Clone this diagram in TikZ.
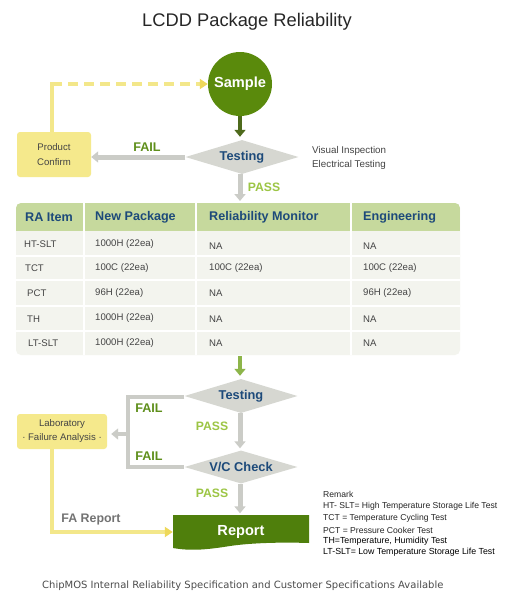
\documentclass[tikz,border=0pt]{standalone}
\usepackage{fontspec}
\setmainfont{Liberation Sans}
\newfontfamily\verdfont{DejaVu Sans}
\usetikzlibrary{arrows.meta,shapes.geometric}
\definecolor{samplegreen}{HTML}{5A8A0C}
\definecolor{reportgreen}{HTML}{4F7F0C}
\definecolor{darkolive}{HTML}{4E6A1C}
\definecolor{diagray}{HTML}{D6D7D1}
\definecolor{arrgray}{HTML}{CBCCC7}
\definecolor{hdrgreen}{HTML}{C6D99D}
\definecolor{rowbg}{HTML}{F3F4EE}
\definecolor{yelbox}{HTML}{F5E98C}
\definecolor{yelline}{HTML}{F3E78A}
\definecolor{yeltip}{HTML}{EED85A}
\definecolor{navy}{HTML}{1D4A7A}
\definecolor{failgreen}{HTML}{5F8F1B}
\definecolor{passgreen}{HTML}{9CC544}
\definecolor{tblarrow}{HTML}{8DB54A}
\definecolor{txtgray}{HTML}{444444}
\tikzset{
  fs/.style={font=\fontsize{#1}{#1}\selectfont},
  dia/.style={shape=diamond, aspect=3.3, fill=diagray, inner sep=0pt, minimum width=113pt, minimum height=34pt,
    text=navy, font=\fontsize{12.8}{13}\selectfont\bfseries},
  ybox/.style={rounded corners=3pt, fill=yelbox, inner sep=0pt, align=center, text=txtgray,
    font=\fontsize{9.6}{14.5}\selectfont},
  garrow/.style={draw=arrgray, line width=5pt, -{Triangle[width=11pt,length=7pt]}},
  gline/.style={draw=arrgray, line width=4.5pt},
  yline/.style={draw=yelline, line width=3.6pt},
  yarrow/.style={yline, -{Triangle[width=10pt,length=8pt,color=yeltip]}},
  faillbl/.style={text=failgreen, font=\fontsize{12.6}{13}\selectfont\bfseries},
  passlbl/.style={text=passgreen, font=\fontsize{12.2}{13}\selectfont\bfseries},
  hdr/.style={anchor=west, text=navy, font=\fontsize{12.6}{13}\selectfont\bfseries, inner sep=0pt},
  cell/.style={anchor=west, text=txtgray, font=\fontsize{9.6}{11}\selectfont, inner sep=0pt},
  remark/.style={anchor=west, inner sep=0pt, text=black!85, font=\fontsize{8.6}{9}\selectfont},
}
\begin{document}
\begin{tikzpicture}[x=1pt,y=-1pt]
\useasboundingbox[fill=white] (0,0) rectangle (512,600);

% title
\node[fs=18.3, text=black!85] (title) at (247,22) {LCDD Package Reliability};

% top part
\node[circle, fill=samplegreen, minimum size=64pt, inner sep=0pt, text=white,
  font=\fontsize{14.6}{15}\selectfont\bfseries] (sample) at (240,84) {Sample};
\node[dia] (t1) at (242,157) {Testing};
\node[ybox, minimum width=74pt, minimum height=45pt] (pc) at (54,154.5) {Product\\Confirm};
\node[anchor=west, inner sep=0pt, text=txtgray, fs=9.8] (vis) at (312,151) {Visual Inspection};
\node[anchor=west, inner sep=0pt, text=txtgray, fs=9.8] (ele) at (312,165) {Electrical Testing};

\draw[draw=darkolive, line width=4.5pt, -{Triangle[width=11pt,length=7pt]}, shorten >=3pt] (sample.south) -- (sample.south |- t1.north);
\draw[garrow] (t1.west) -- (t1.west -| pc.east);
\node[faillbl] (fail1) at (147,147) {FAIL};
\coordinate (corner) at (52,84);
\draw[yline] (pc.north -| corner) -- ([yshift=1.8pt]corner);
\draw[yarrow, dash pattern=on 10pt off 6pt, dash phase=-2pt] ([xshift=-1.8pt]corner) -- (sample.west);

% table
\coordinate (tabtop) at (240,203);
\draw[garrow, shorten >=2pt] (t1.south -| tabtop) -- (tabtop);
\node[passlbl] (pass1) at (264,187) {PASS};

\fill[rowbg, rounded corners=5pt] (16,203) rectangle (460,355);
\begin{scope}
\clip[rounded corners=5pt] (16,203) rectangle (460,355);
\fill[hdrgreen] (16,203) rectangle (460,231);
\end{scope}
\foreach \yy in {256,280,306,331} \draw[white, line width=1.2pt] (16,\yy) -- (460,\yy);
\foreach \xx in {84,196,351} \draw[white, line width=1.2pt] (\xx,203) -- (\xx,355);

\node[hdr] (h1) at (25,217) {RA Item};
\node[hdr] (h2) at (95,217) {New Package};
\node[hdr] (h3) at (209,217) {Reliability Monitor};
\node[hdr] (h4) at (363,217) {Engineering};

\node[cell] (r1a) at (24,244) {HT-SLT};
\node[cell] (r1b) at (95,244) {1000H (22ea)};
\node[cell] (r1c) at (209,246) {NA};
\node[cell] (r1d) at (363,246) {NA};
\node[cell] (r2a) at (25,268) {TCT};
\node[cell] (r2b) at (95,268) {100C (22ea)};
\node[cell] (r2c) at (209,268) {100C (22ea)};
\node[cell] (r2d) at (363,268) {100C (22ea)};
\node[cell] (r3a) at (27,293) {PCT};
\node[cell] (r3b) at (95,293) {96H (22ea)};
\node[cell] (r3c) at (209,293) {NA};
\node[cell] (r3d) at (363,293) {96H (22ea)};
\node[cell] (r4a) at (27,319) {TH};
\node[cell] (r4b) at (95,318) {1000H (22ea)};
\node[cell] (r4c) at (209,319) {NA};
\node[cell] (r4d) at (363,319) {NA};
\node[cell] (r5a) at (28,343) {LT-SLT};
\node[cell] (r5b) at (95,343) {1000H (22ea)};
\node[cell] (r5c) at (209,343) {NA};
\node[cell] (r5d) at (363,343) {NA};

% lower part
\coordinate (tabbot) at (240,356);
\node[dia] (t2) at (241,396) {Testing};
\node[dia, minimum height=33pt] (vc) at (241,467) {V/C Check};
\node[ybox, minimum width=90pt, minimum height=35pt, font=\fontsize{9.6}{14}\selectfont] (lab) at (62,431.5) {Laboratory\\\textperiodcentered{} Failure Analysis \textperiodcentered};

\fill[reportgreen] (173,515) -- (309,515) -- (309,543)
  .. controls (280,542) and (250,543) .. (230,546)
  .. controls (205,550) and (190,551) .. (173,548) -- cycle;
\node[text=white, inner sep=0pt, minimum width=136pt, minimum height=33pt,
  font=\fontsize{14.6}{15}\selectfont\bfseries] (report) at (241,532) {Report};

\draw[draw=tblarrow, line width=4.5pt, -{Triangle[width=11pt,length=7pt]}, shorten >=3pt] (tabbot) -- (tabbot |- t2.north);
\draw[garrow, shorten >=2pt] (t2.south -| tabbot) -- (vc.north -| tabbot);
\draw[garrow, shorten >=2pt] (vc.south -| tabbot) -- (report.north -| tabbot);
\node[passlbl] (pass2) at (212,426) {PASS};
\node[passlbl] (pass3) at (212,493) {PASS};

\coordinate (bt) at (128,397);
\coordinate (bb) at (128,467);
\coordinate (bm) at (128,434);
\draw[gline] (t2.west |- bt) -- (bt) -- (bb) -- (vc.west);
\draw[garrow, line width=4.5pt, shorten >=4pt] (bm) -- (bm -| lab.east);
\node[faillbl] (fail2) at (149,408) {FAIL};
\node[faillbl] (fail3) at (149,456) {FAIL};

\draw[yarrow] (lab.south -| 52,0) |- (report.west);
\node[text=black!55, font=\fontsize{12.4}{13}\selectfont\bfseries] (fa) at (91,520) {FA Report};

% remarks
\node[remark] (rm0) at (323,494) {Remark};
\node[remark] (rm1) at (323,506) {HT- SLT= High Temperature Storage Life Test};
\node[remark] (rm2) at (323,518) {TCT = Temperature Cycling Test};
\node[remark] (rm3) at (323,530) {PCT = Pressure Cooker Test};
\node[remark, text=black, font=\fontsize{8.8}{9}\selectfont] (rm4) at (323,541.5) {TH=Temperature, Humidity Test};
\node[remark, text=black, font=\fontsize{8.8}{9}\selectfont] (rm5) at (323,552.5) {LT-SLT= Low Temperature Storage Life Test};

% footer
\node[anchor=west, inner sep=0pt, text=black!70, font=\verdfont\fontsize{10}{11}\selectfont] (foot) at (42,586) {ChipMOS Internal Reliability Specification and Customer Specifications Available};
\end{tikzpicture}
\end{document}
